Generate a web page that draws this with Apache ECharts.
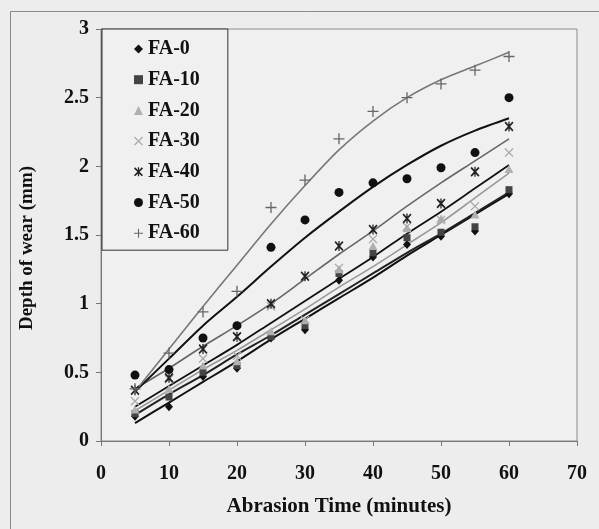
<!DOCTYPE html>
<html>
<head>
<meta charset="utf-8">
<style>
  html, body { margin: 0; padding: 0; background: #ededed; }
  #chart { width: 599px; height: 529px; }
</style>
<script src="https://cdn.jsdelivr.net/npm/echarts@6/dist/echarts.min.js"></script>
</head>
<body>
<div id="chart"></div>
<script>
// Abrasion time (minutes) for every measurement
const times = [5, 10, 15, 20, 25, 30, 35, 40, 45, 50, 55, 60];

// Measured depth of wear (mm) per mix
const fa0  = [0.18, 0.25, 0.47, 0.53, 0.75, 0.81, 1.17, 1.34, 1.43, 1.49, 1.53, 1.80];
const fa10 = [0.20, 0.32, 0.50, 0.55, 0.76, 0.84, 1.22, 1.37, 1.48, 1.52, 1.56, 1.83];
const fa20 = [0.23, 0.38, 0.55, 0.58, 0.80, 0.88, 1.25, 1.42, 1.55, 1.62, 1.65, 1.98];
const fa30 = [0.29, 0.45, 0.60, 0.62, 0.98, 0.88, 1.26, 1.47, 1.56, 1.61, 1.71, 2.10];
const fa40 = [0.37, 0.46, 0.67, 0.76, 1.00, 1.20, 1.42, 1.54, 1.62, 1.73, 1.96, 2.29];
const fa50 = [0.48, 0.52, 0.75, 0.84, 1.41, 1.61, 1.81, 1.88, 1.91, 1.99, 2.10, 2.50];
const fa60 = [0.38, 0.64, 0.94, 1.09, 1.70, 1.90, 2.20, 2.40, 2.50, 2.60, 2.70, 2.80];

// Trend curves for each mix, sampled at the same times
const fa0Trend  = [0.13, 0.28, 0.43, 0.58, 0.74, 0.89, 1.04, 1.19, 1.35, 1.50, 1.65, 1.80];
const fa10Trend = [0.19, 0.34, 0.48, 0.63, 0.77, 0.92, 1.07, 1.22, 1.37, 1.51, 1.66, 1.81];
const fa20Trend = [0.22, 0.37, 0.52, 0.66, 0.81, 0.96, 1.12, 1.27, 1.43, 1.59, 1.77, 1.95];
const fa30Trend = [0.25, 0.40, 0.55, 0.70, 0.86, 1.02, 1.18, 1.34, 1.51, 1.67, 1.84, 2.01];
const fa40Trend = [0.38, 0.53, 0.69, 0.84, 1.00, 1.18, 1.36, 1.53, 1.71, 1.88, 2.04, 2.20];
const fa50Trend = [0.36, 0.60, 0.84, 1.05, 1.27, 1.48, 1.67, 1.85, 2.01, 2.15, 2.26, 2.35];
const fa60Trend = [0.36, 0.67, 0.98, 1.28, 1.58, 1.86, 2.12, 2.33, 2.50, 2.63, 2.73, 2.83];

const names = ['FA-0', 'FA-10', 'FA-20', 'FA-30', 'FA-40', 'FA-50', 'FA-60'];

// Axis ticks
const xTicks = { min: 0, max: 70, interval: 10 };
const yTicks = { min: 0, max: 3, interval: 0.5 };

// Marker shapes drawn as filled outlines
const crossPath = 'path://M0,1L1,0L5,4L9,0L10,1L6,5L10,9L9,10L5,6L1,10L0,9L4,5Z';
const plusPath = 'path://M4.4,0H5.6V4.4H10V5.6H5.6V10H4.4V5.6H0V4.4H4.4Z';
const starPath = 'path://M0,1.3L1.3,0L5,3.7L8.7,0L10,1.3L6.3,5L10,8.7L8.7,10L5,6.3L1.3,10L0,8.7L3.7,5Z M4.3,0H5.7V10H4.3Z';

const pair = arr => arr.map((v, i) => [times[i], v]);

const markers = [
  { data: fa0,  symbol: 'diamond',  size: [8, 9],  color: '#111' },
  { data: fa10, symbol: 'rect',     size: [7, 7],  color: '#444' },
  { data: fa20, symbol: 'triangle', size: [9, 8],  color: '#b0b0b0' },
  { data: fa30, symbol: crossPath,  size: [9, 9],  color: '#a8a8a8' },
  { data: fa40, symbol: starPath,   size: [9, 10], color: '#222' },
  { data: fa50, symbol: 'circle',   size: [9, 9],  color: '#111' },
  { data: fa60, symbol: plusPath,   size: [11, 11], color: '#666' }
];

const trends = [
  { data: fa0Trend,  color: '#111', width: 2 },
  { data: fa10Trend, color: '#222', width: 2 },
  { data: fa20Trend, color: '#999', width: 1.6 },
  { data: fa30Trend, color: '#111', width: 1.8 },
  { data: fa40Trend, color: '#666', width: 1.6 },
  { data: fa50Trend, color: '#111', width: 2 },
  { data: fa60Trend, color: '#777', width: 1.6 }
];

const serif = '"Liberation Serif", "Times New Roman", serif';

const series = [];
trends.forEach((t, i) => {
  series.push({
    type: 'line',
    name: names[i] + ' trend',
    data: pair(t.data),
    smooth: 0.3,
    symbol: 'none',
    silent: true,
    z: 2,
    lineStyle: { color: t.color, width: t.width }
  });
});
markers.forEach((m, i) => {
  series.push({
    type: 'scatter',
    name: names[i],
    data: pair(m.data),
    symbol: m.symbol,
    symbolSize: m.size,
    z: 3,
    itemStyle: { color: m.color, opacity: 1 }
  });
});

const chart = echarts.init(document.getElementById('chart'), null, { renderer: 'canvas' });
chart.setOption({
  backgroundColor: '#ededed',
  animation: false,
  textStyle: { fontFamily: serif },
  graphic: [{
    type: 'rect',
    shape: { x: 10.5, y: 11.5, width: 620, height: 560 },
    style: { fill: 'none', stroke: '#8a8a8a', lineWidth: 1 },
    z: -1
  }],
  grid: {
    left: 101, right: 22, top: 29, bottom: 88,
    show: true, backgroundColor: '#f0f0f0', borderColor: '#8c8c8c', borderWidth: 1
  },
  legend: {
    data: names,
    orient: 'vertical',
    left: 102, top: 29,
    padding: [10, 28, 7, 32],
    itemGap: 10.7,
    itemWidth: 9, itemHeight: 9,
    backgroundColor: '#f0f0f0',
    borderColor: '#333',
    borderWidth: 1,
    borderRadius: 0,
    textStyle: { fontFamily: serif, fontWeight: 'bold', fontSize: 20, color: '#111', lineHeight: 20 }
  },
  xAxis: {
    type: 'value',
    min: xTicks.min, max: xTicks.max, interval: xTicks.interval,
    name: 'Abrasion Time (minutes)',
    nameLocation: 'middle', nameGap: 55,
    nameTextStyle: { fontFamily: serif, fontWeight: 'bold', fontSize: 21, color: '#111' },
    axisLine: { lineStyle: { color: '#777', width: 1 } },
    axisTick: { show: true, inside: false, length: 5, lineStyle: { color: '#777' } },
    axisLabel: { fontFamily: serif, fontWeight: 'bold', fontSize: 20, color: '#111', margin: 23 },
    splitLine: { show: false }
  },
  yAxis: {
    type: 'value',
    min: yTicks.min, max: yTicks.max, interval: yTicks.interval,
    name: 'Depth of wear (mm)',
    nameLocation: 'middle', nameGap: 64, nameRotate: 90,
    nameTextStyle: { fontFamily: serif, fontWeight: 'bold', fontSize: 19, color: '#111', padding: [0, 26, 0, 0] },
    axisLine: { show: true, lineStyle: { color: '#777', width: 1 } },
    axisTick: { show: true, inside: false, length: 5, lineStyle: { color: '#777' } },
    axisLabel: { fontFamily: serif, fontWeight: 'bold', fontSize: 20, color: '#111', margin: 12 },
    splitLine: { show: false }
  },
  series: series
});
</script>
</body>
</html>
